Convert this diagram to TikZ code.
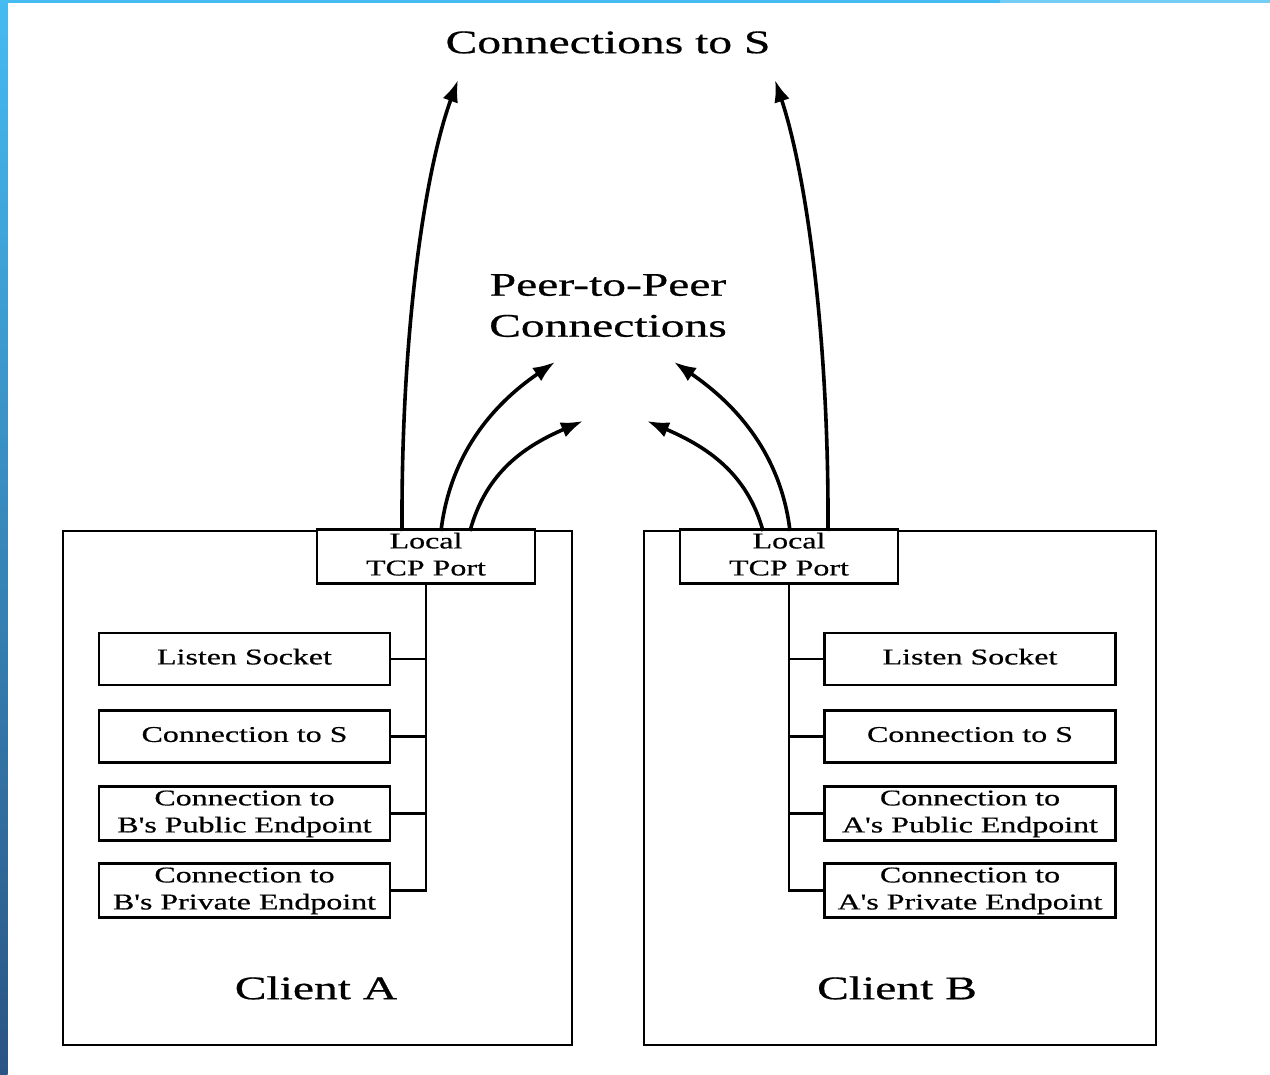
\documentclass[tikz,border=0pt]{standalone}
\usepackage{fontspec}
\setmainfont{Liberation Serif}
% slightly heavier serif for all labels; plain apostrophes
\newfontfamily\lblfont{Liberation Serif}[FakeBold=0.5]
\usetikzlibrary{arrows.meta}

% text helpers: wide serif lettering, one or two centred lines
\newcommand{\lbltext}[1]{\raisebox{-2.5pt}{\scalebox{1.42}[1]{\lblfont\fontsize{22.5}{27}\selectfont\begin{tabular}{@{}c@{}}#1\end{tabular}}}}
\newcommand{\headtext}[1]{\scalebox{1.44}[1]{\lblfont\fontsize{33}{41}\selectfont\begin{tabular}{@{}c@{}}#1\end{tabular}}}

\definecolor{barlight}{HTML}{45BBF2}
\definecolor{bardark}{HTML}{2A5483}
\definecolor{barpale}{HTML}{74CDF4}

\tikzset{
  client/.style={draw, line width=2.2pt, inner sep=0pt, minimum width=509pt, minimum height=514pt},
  portbox/.style={draw, fill=white, line width=2.2pt, inner sep=0pt, minimum width=218pt, minimum height=51pt},
  itembox/.style={draw, line width=2.4pt, inner sep=0pt, minimum width=291pt, minimum height=52pt},
  tree/.style={line width=2.2pt},
  conn/.style={line width=3.6pt, -{Latex[length=22pt,width=16pt]}},
  heading/.style={inner sep=0pt},
}

\begin{document}
\begin{tikzpicture}[x=1pt, y=-1pt]
  \useasboundingbox (0,0) rectangle (1270,1075);
  \fill[white] (0,0) rectangle (1270,1075);

  % frame accents
  \fill[barlight] (0,0) rectangle (1000,3);
  \fill[barpale] (1000,0) rectangle (1270,3);
  \shade[top color=barlight, bottom color=bardark] (0,0) rectangle (7.5,1075);

  % client boxes
  \node[client] (cliA) at (317.5,788) {};
  \node[client, minimum width=512pt] (cliB) at (900,788) {};

  % local TCP ports
  \node[portbox] (portA) at (426,556.5) {\lbltext{Local\\TCP Port}};
  \node[portbox] (portB) at (789,556.5) {\lbltext{Local\\TCP Port}};

  % sockets of client A
  \node[itembox] (lsA)   at (244.5,659)   {\lbltext{Listen Socket}};
  \node[itembox] (csA)   at (244.5,736.5) {\lbltext{Connection to S}};
  \node[itembox] (pubA)  at (244.5,813.5) {\lbltext{Connection to\\B's Public Endpoint}};
  \node[itembox] (privA) at (244.5,890.5) {\lbltext{Connection to\\B's Private Endpoint}};

  % sockets of client B
  \node[itembox] (lsB)   at (970,659)   {\lbltext{Listen Socket}};
  \node[itembox] (csB)   at (970,736.5) {\lbltext{Connection to S}};
  \node[itembox] (pubB)  at (970,813.5) {\lbltext{Connection to\\A's Public Endpoint}};
  \node[itembox] (privB) at (970,890.5) {\lbltext{Connection to\\A's Private Endpoint}};

  % port trees
  \draw[tree] (portA.south) |- (privA.east);
  \draw[tree] (lsA.east) -- (lsA.east -| portA.south);
  \draw[tree] (csA.east) -- (csA.east -| portA.south);
  \draw[tree] (pubA.east) -- (pubA.east -| portA.south);

  \draw[tree] (portB.south) |- (privB.west);
  \draw[tree] (lsB.west) -- (lsB.west -| portB.south);
  \draw[tree] (csB.west) -- (csB.west -| portB.south);
  \draw[tree] (pubB.west) -- (pubB.west -| portB.south);

  % client names
  \node[heading] (nameA) at (316,991) {\headtext{Client A}};
  \node[heading] (nameB) at (897,991) {\headtext{Client B}};

  % headings
  \node[heading] (srv) at (608,45) {\headtext{Connections to S}};
  \node[heading] (p2p) at (608,308) {\headtext{Peer-to-Peer\\Connections}};

  % arrow end points
  \coordinate (sA1) at (402,531);
  \coordinate (sA2) at (441,531);
  \coordinate (sA3) at (470,531);
  \coordinate (sB1) at (828,531);
  \coordinate (sB2) at (790,531);
  \coordinate (sB3) at (763,531);
  \coordinate (tA)  at (458,80);
  \coordinate (tB)  at (775,80);
  \coordinate (pA1) at (555,362);
  \coordinate (pA2) at (583,421);
  \coordinate (pB1) at (674,362);
  \coordinate (pB2) at (647,421);

  % connections to the server
  \draw[conn] (sA1) .. controls (401,330) and (425,170) .. (tA);
  \draw[conn] (sB1) .. controls (829,330) and (805,170) .. (tB);

  % peer-to-peer connections
  \draw[conn] (sA2) .. controls (450,455) and (492,405) .. (pA1);
  \draw[conn] (sA3) .. controls (486,472) and (525,446) .. (pA2);
  \draw[conn] (sB2) .. controls (781,455) and (737,405) .. (pB1);
  \draw[conn] (sB3) .. controls (747,472) and (705,446) .. (pB2);
\end{tikzpicture}
\end{document}
